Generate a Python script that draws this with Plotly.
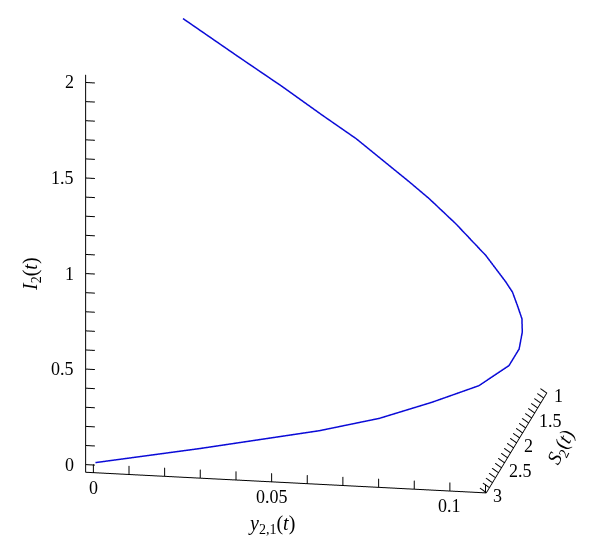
import plotly.graph_objects as go

# ---- data ----
S2 = [2.96, 2.75, 2.45, 2.28, 2.12, 1.98, 1.85, 1.75, 1.67, 1.61, 1.56, 1.51,
      1.48, 1.40, 1.33, 1.28, 1.25, 1.22, 1.18, 1.15, 1.12, 1.09, 1.06]
Y21 = [0.0002, 0.0276, 0.0586, 0.0740, 0.0875, 0.0995, 0.1068, 0.1088, 0.1090,
       0.1084, 0.1067, 0.1049, 0.1028, 0.0965, 0.0875, 0.0796, 0.0738, 0.0684,
       0.0583, 0.0486, 0.0372, 0.0239, 0.0087]
I2 = [0.001, 0.046, 0.091, 0.126, 0.182, 0.244, 0.322, 0.385, 0.452, 0.506,
      0.561, 0.616, 0.659, 0.771, 0.910, 1.021, 1.095, 1.160, 1.288, 1.393,
      1.523, 1.668, 1.838]

# ---- ticks (all tick marks) and labelled ticks ----
I_TICKS = [0, 0.1, 0.2, 0.3, 0.4, 0.5, 0.6, 0.7, 0.8, 0.9, 1.0,
           1.1, 1.2, 1.3, 1.4, 1.5, 1.6, 1.7, 1.8, 1.9, 2.0]
I_MAJOR = [0, 0.5, 1, 1.5, 2]
I_LABELS = ["0", "0.5", "1", "1.5", "2"]
Y_TICKS = [0, 0.01, 0.02, 0.03, 0.04, 0.05, 0.06, 0.07, 0.08, 0.09, 0.10, 0.11]
Y_MAJOR = [0, 0.05, 0.1]
Y_LABELS = ["0", "0.05", "0.1"]
S_TICKS = [1.0, 1.1, 1.2, 1.3, 1.4, 1.5, 1.6, 1.7, 1.8, 1.9, 2.0,
           2.1, 2.2, 2.3, 2.4, 2.5, 2.6, 2.7, 2.8, 2.9, 3.0]
S_MAJOR = [1, 1.5, 2, 2.5, 3]
S_LABELS = ["1", "1.5", "2", "2.5", "3"]

S_RANGE = [0.995, 3.005]
Y_RANGE = [-0.00216, 0.1102]
I_RANGE = [-0.04, 2.04]

# tick stroke lengths, in axis units (style only)
I_TICK_DY = 0.0026      # I-axis ticks run along +y21
Y_TICK_DI = 0.045       # y21-axis ticks run along +I
S_TICK_DY = -0.0018     # S-axis ticks lean up-left
S_TICK_DI = 0.022

FONT = "Liberation Serif"
TICKFONT = dict(family=FONT, size=18, color="black")
TITLEFONT = dict(family=FONT, size=20, color="black")

fig = go.Figure()

# tick marks drawn through the scene's own axes
tx, ty, tz = [], [], []
for v in I_TICKS:
    tx += [S_RANGE[1], S_RANGE[1], None]
    ty += [Y_RANGE[0], Y_RANGE[0] + I_TICK_DY, None]
    tz += [v, v, None]
for v in Y_TICKS:
    tx += [S_RANGE[1], S_RANGE[1], None]
    ty += [v, v, None]
    tz += [I_RANGE[0], I_RANGE[0] + Y_TICK_DI, None]
for v in S_TICKS:
    tx += [v, v, None]
    ty += [Y_RANGE[1], Y_RANGE[1] + S_TICK_DY, None]
    tz += [I_RANGE[0], I_RANGE[0] + S_TICK_DI, None]
fig.add_trace(go.Scatter3d(
    x=tx, y=ty, z=tz, mode="lines", connectgaps=False,
    line=dict(color="black", width=2),
    showlegend=False, hoverinfo="skip"))

fig.add_trace(go.Scatter3d(
    x=S2, y=Y21, z=I2, mode="lines",
    line=dict(color="rgb(10,10,215)", width=3),
    showlegend=False, hoverinfo="skip"))


def ax(rng):
    return dict(
        range=rng, ticks="", showline=True, linecolor="black",
        linewidth=2, showgrid=False, zeroline=False, showbackground=False,
        showspikes=False, title=dict(text=""), showticklabels=False)


# tick labels as scene annotations anchored on the axis edges
scene_ann = []
for v, t in zip(I_MAJOR, I_LABELS):
    scene_ann.append(dict(x=S_RANGE[1], y=Y_RANGE[0], z=v, text=t, showarrow=False,
                          xanchor="right", yanchor="middle", xshift=-10, yshift=0,
                          font=TICKFONT))
for v, t in zip(Y_MAJOR, Y_LABELS):
    scene_ann.append(dict(x=S_RANGE[1], y=v, z=I_RANGE[0], text=t, showarrow=False,
                          xanchor="center", yanchor="middle", xshift=0, yshift=-15,
                          font=TICKFONT))
for v, t in zip(S_MAJOR, S_LABELS):
    scene_ann.append(dict(x=v, y=Y_RANGE[1], z=I_RANGE[0], text=t, showarrow=False,
                          xanchor="left", yanchor="middle", xshift=5, yshift=-3,
                          font=TICKFONT))

fig.update_layout(
    width=600, height=556, margin=dict(l=0, r=0, t=0, b=0),
    paper_bgcolor="white",
    scene=dict(
        domain=dict(x=[0, 1], y=[0, 1]),
        xaxis=ax(S_RANGE),
        yaxis=ax(Y_RANGE),
        zaxis=ax(I_RANGE),
        aspectmode="manual",
        aspectratio=dict(x=1.2536, y=1.4634, z=1.4945),
        camera=dict(
            projection=dict(type="orthographic"),
            up=dict(x=0, y=0, z=1),
            center=dict(x=0.0591, y=-0.0198, z=-0.1795),
            eye=dict(x=1.9430, y=0.3131, z=0.4037)),
        annotations=scene_ann,
    ),
    annotations=[
        dict(text="<i>I</i><sub>2</sub>(<i>t</i>)", x=23 / 600, y=1 - 266 / 556,
             xref="paper", yref="paper", xanchor="center", yanchor="middle",
             showarrow=False, textangle=-90, font=TITLEFONT),
        dict(text="<i>y</i><sub>2,1</sub>(<i>t</i>)", x=263 / 600, y=1 - 516 / 556,
             xref="paper", yref="paper", xanchor="center", yanchor="middle",
             showarrow=False, font=TITLEFONT),
        dict(text="<i>S</i><sub>2</sub>(<i>t</i>)", x=553 / 600, y=1 - 439 / 556,
             xref="paper", yref="paper", xanchor="center", yanchor="middle",
             showarrow=False, textangle=-63, font=TITLEFONT),
    ],
)

fig.write_html("out.html")
